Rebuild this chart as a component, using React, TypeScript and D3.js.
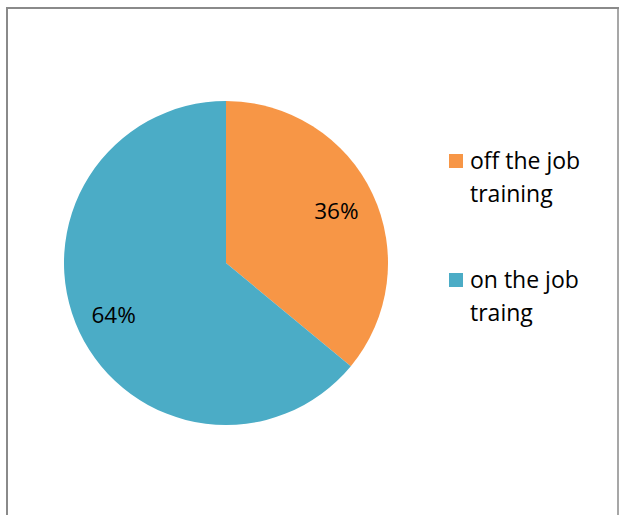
import React from "react";
import * as d3 from "d3";

const categories = ["off the job training", "on the job traing"];
const legendLines = [["off the job", "training"], ["on the job", "traing"]];
const values = [36, 64];
const colors = ["#F79646", "#4BACC6"];

export default function App() {
  const width = 619;
  const height = 515;
  const cx = 226;
  const cy = 263;
  const r = 162;
  const font = "Open Sans, Lato, sans-serif";

  const pie = d3.pie<number>().sort(null).value((d) => d);
  const arcs = pie(values);
  const arc = d3.arc<d3.PieArcDatum<number>>().innerRadius(0).outerRadius(r);
  const labelArc = d3.arc<d3.PieArcDatum<number>>().innerRadius(r * 0.76).outerRadius(r * 0.76);
  const total = d3.sum(values);

  return (
    <svg
      width={width}
      height={height}
      style={{ position: "absolute", left: 0, top: 0 }}
    >
      <rect x={0} y={0} width={width} height={height} fill="#ffffff" />
      {/* frame */}
      <line x1={6} y1={8} x2={619} y2={8} stroke="#8a8a8a" strokeWidth={2} />
      <line x1={7} y1={8} x2={7} y2={515} stroke="#8a8a8a" strokeWidth={2} />
      <line x1={618} y1={8} x2={618} y2={515} stroke="#8a8a8a" strokeWidth={1.5} />
      <g transform={`translate(${cx},${cy})`}>
        {arcs.map((a, i) => (
          <path key={categories[i]} d={arc(a) ?? ""} fill={colors[i]} />
        ))}
        {arcs.map((a, i) => {
          const [lx, ly] = labelArc.centroid(a);
          return (
            <text
              key={"l" + i}
              x={lx - 1}
              y={ly + 8}
              textAnchor="middle"
              fontFamily={font}
              fontSize={22.5}
              fill="#000"
            >
              {Math.round((values[i] / total) * 100)}%
            </text>
          );
        })}
      </g>
      {legendLines.map((lines, i) => (
        <g key={"lg" + i} transform={`translate(449,${154 + i * 119})`}>
          <rect x={0} y={0} width={14} height={14} fill={colors[i]} />
          {lines.map((t, j) => (
            <text
              key={j}
              x={21}
              y={15 + j * 33}
              fontFamily={font}
              fontSize={23}
              fill="#000"
            >
              {t}
            </text>
          ))}
        </g>
      ))}
    </svg>
  );
}
